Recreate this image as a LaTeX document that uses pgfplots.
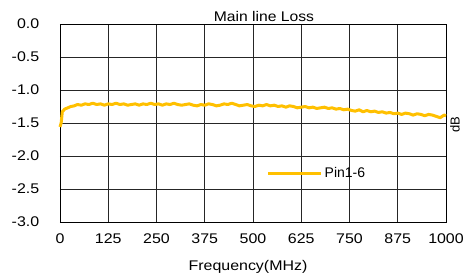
\documentclass[border=0pt]{standalone}
\usepackage{fontspec}
\setmainfont{Liberation Sans}
\usepackage{pgfplots}
\pgfplotsset{compat=1.18}
\definecolor{gold}{HTML}{FFC000}
\begin{document}
\begin{tikzpicture}
\useasboundingbox (-60pt,-52pt) rectangle (403pt,222pt);
\begin{axis}[
  at={(0pt,0pt)}, anchor=south west,
  scale only axis, width=386pt, height=198pt,
  xmin=0, xmax=1000, ymin=-3, ymax=0,
  xtick={0,125,250,375,500,625,750,875,1000},
  xticklabels={0,125,250,375,500,625,750,875,1000},
  ytick={-3,-2.5,-2,-1.5,-1,-0.5,0},
  yticklabels={-3.0,-2.5,-2.0,-1.5,-1.0,-0.5,0.0},
  major tick length=0pt,
  grid=major,
  grid style={black!85, line width=0.6pt},
  axis line style={black, line width=0.9pt},
  tick label style={font=\fontsize{14}{16}\selectfont, xscale=1.14, inner sep=0pt},
  yticklabel style={anchor=east, xshift=-18pt},
  xticklabel style={anchor=north, yshift=-12pt},
  legend style={at={(axis cs:535,-2.26)}, anchor=west, draw=none, fill=none, inner sep=0pt,
    font=\fontsize{14}{16}\selectfont, xscale=1.14},
  legend image code/.code={\draw[#1, line width=3pt] (0pt,0pt) -- (53pt,0pt);},
  legend cell align=left,
  clip=false,
]
\addplot[gold, line width=3pt, line join=round] coordinates {
(0,-1.56) (3,-1.50) (6,-1.33) (12,-1.29) (20,-1.27) (28,-1.25) (37,-1.24) (45,-1.22)
(55,-1.23) (65,-1.21) (75,-1.22) (85,-1.20) (95,-1.22) (105,-1.21) (115,-1.23) (125,-1.21)
(135,-1.22) (145,-1.20) (155,-1.22) (165,-1.21) (175,-1.23) (185,-1.22) (195,-1.21) (205,-1.23)
(215,-1.21) (225,-1.22) (235,-1.20) (245,-1.22) (255,-1.21) (265,-1.23) (275,-1.21) (285,-1.22)
(295,-1.20) (305,-1.22) (315,-1.23) (325,-1.22) (335,-1.21) (345,-1.23) (355,-1.24) (365,-1.22)
(375,-1.23) (385,-1.21) (395,-1.22) (405,-1.24) (415,-1.23) (425,-1.21) (435,-1.22) (445,-1.20)
(455,-1.22) (465,-1.24) (475,-1.23) (485,-1.22) (495,-1.24) (505,-1.25) (515,-1.23) (525,-1.24)
(535,-1.22) (545,-1.24) (555,-1.23) (565,-1.25) (575,-1.24) (585,-1.26) (595,-1.24) (605,-1.25)
(615,-1.27) (625,-1.26) (635,-1.25) (645,-1.27) (655,-1.26) (665,-1.28) (675,-1.27) (685,-1.26)
(695,-1.28) (705,-1.27) (715,-1.29) (725,-1.28) (735,-1.30) (745,-1.29) (755,-1.31) (765,-1.32)
(775,-1.30) (785,-1.33) (795,-1.31) (805,-1.33) (815,-1.32) (825,-1.34) (835,-1.33) (845,-1.35)
(855,-1.34) (865,-1.36) (875,-1.35) (885,-1.37) (895,-1.35) (905,-1.36) (915,-1.38) (925,-1.36)
(935,-1.37) (945,-1.39) (955,-1.37) (965,-1.38) (975,-1.40) (985,-1.42) (995,-1.38) (1000,-1.39)
};
\addlegendentry{Pin1-6}
\end{axis}
\node[font=\fontsize{14}{16}\selectfont, xscale=1.12, anchor=base] at (204pt,201pt) {Main line Loss};
\node[font=\fontsize{14}{16}\selectfont, xscale=1.14, anchor=base] at (188pt,-48pt) {Frequency(MHz)};
\node[font=\fontsize{13}{15}\selectfont, rotate=90, anchor=south, inner sep=0pt] at (400pt,97pt) {dB};
\end{tikzpicture}
\end{document}
